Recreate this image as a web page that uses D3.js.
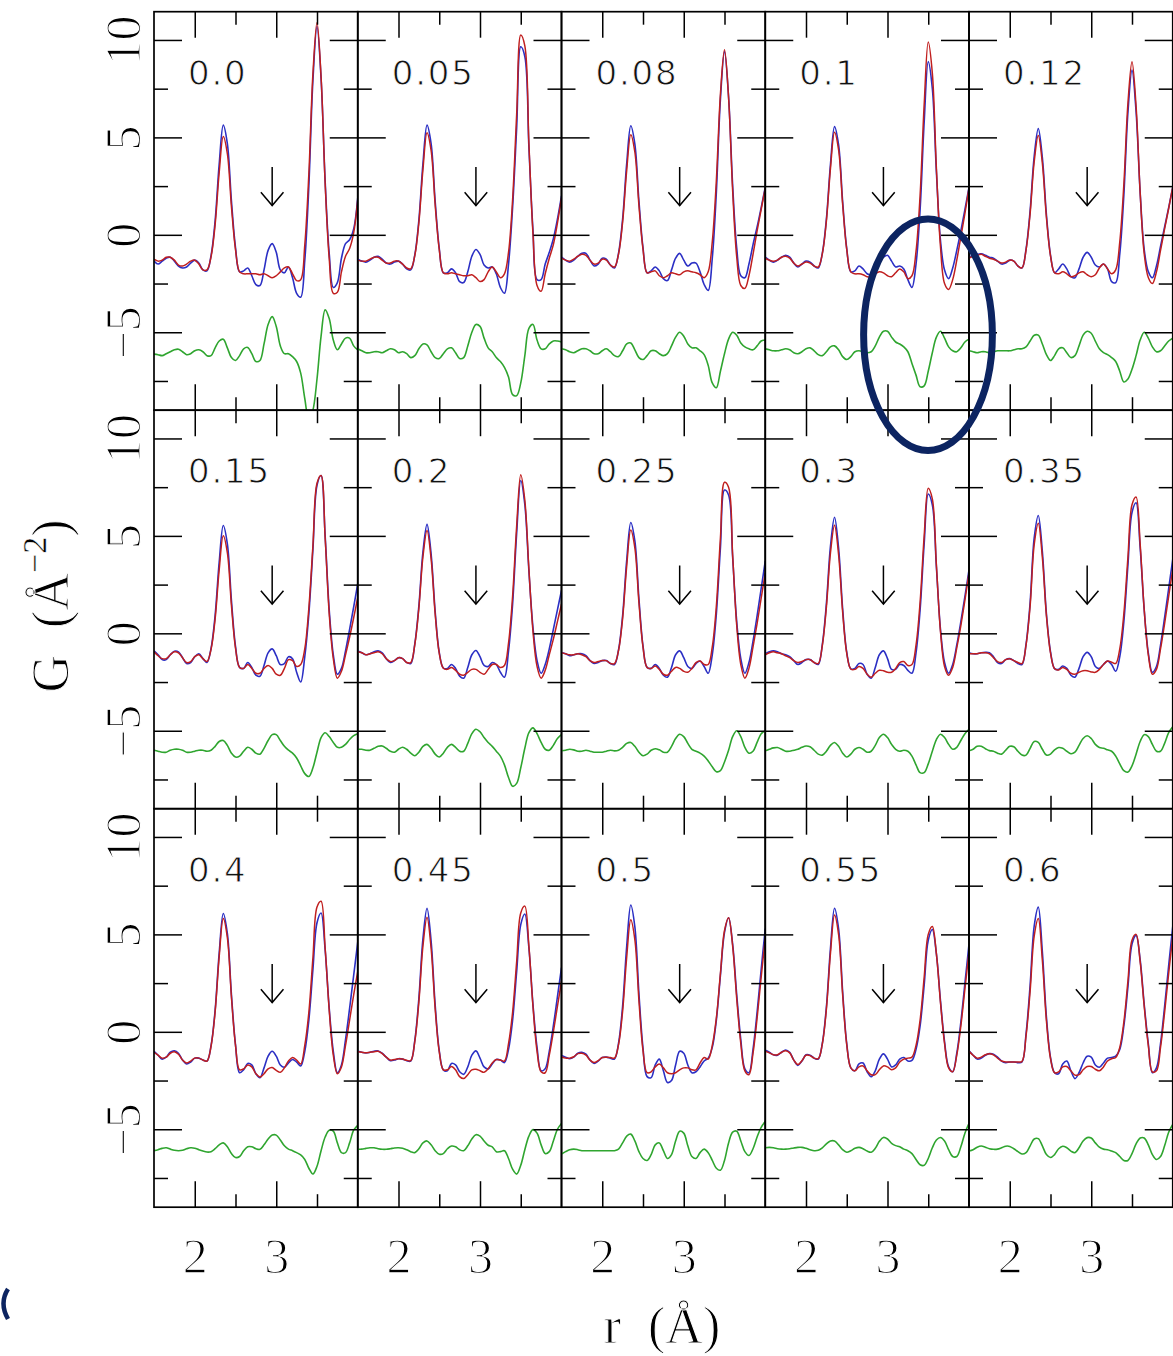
<!DOCTYPE html>
<html>
<head>
<meta charset="utf-8">
<script src="https://cdn.jsdelivr.net/npm/d3@7"></script>
<style>
  body { margin: 0; background: #fff; }
  svg { display: block; }
</style>
</head>
<body>
<svg id="chart" width="1173" height="1356"></svg>
<script>
// Radial grid (Å) shared by every panel
const rGrid = [1.5,1.55,1.6,1.65,1.7,1.75,1.8,1.85,1.9,1.95,2,2.05,2.1,2.15,2.2,2.25,2.3,2.35,2.4,2.45,2.5,2.55,2.6,2.65,2.7,2.75,2.8,2.85,2.9,2.95,3,3.05,3.1,3.15,3.2,3.25,3.3,3.35,3.4,3.45,3.5,3.55,3.6,3.65,3.7,3.75,3.8,3.85,3.9,3.95,4];

const panelLabels = ["0.0","0.05","0.08","0.1","0.12","0.15","0.2","0.25","0.3","0.35","0.4","0.45","0.5","0.55","0.6"];

// Measured G(r) (blue), model fit (red), offset difference (green)
const obs00 = [-1.35,-1.5,-1.35,-1.2,-1.15,-1.35,-1.6,-1.7,-1.65,-1.45,-1.3,-1.45,-1.8,-1.85,-1.07,0.72,3.63,5.63,4.68,1.75,-0.65,-1.9,-1.85,-1.7,-2.1,-2.55,-2.6,-1.8,-0.8,-0.45,-0.9,-1.8,-1.95,-1.65,-2.2,-3.0,-3.2,-1.32,2.51,7.93,10.7,8.02,2.76,-0.96,-2.7,-2.45,-1.2,-0.45,-0.25,0.3,1.9];
const fit00 = [-1.25,-1.35,-1.3,-1.15,-1.15,-1.3,-1.55,-1.6,-1.5,-1.35,-1.3,-1.5,-1.8,-1.8,-1.13,0.52,3.2,5.04,4.16,1.46,-0.76,-1.9,-2.0,-2.0,-2.0,-2.0,-2.05,-2.0,-2.1,-2.2,-2.1,-1.9,-1.7,-1.65,-2.0,-2.35,-2.3,-0.52,3.13,8.27,10.9,8.11,2.64,-1.23,-3.0,-2.95,-1.9,-1.1,-0.7,0.1,1.8];
const diff00 = [-6.12,-6.15,-6.2,-6.1,-6.0,-5.9,-5.87,-6.0,-6.15,-6.1,-5.95,-5.9,-6.0,-6.2,-6.2,-5.8,-5.45,-5.36,-5.8,-6.3,-6.45,-6.2,-5.85,-5.78,-6.1,-6.5,-6.45,-5.6,-4.6,-4.2,-4.7,-5.7,-6.1,-6.1,-6.25,-6.5,-7.1,-8.4,-9.5,-9.0,-7.4,-5.2,-3.85,-4.3,-5.4,-5.9,-5.6,-5.3,-5.3,-5.7,-5.9];

const obs05 = [-1.25,-1.35,-1.4,-1.3,-1.15,-1.1,-1.25,-1.45,-1.5,-1.4,-1.35,-1.5,-1.75,-1.8,-1.03,0.76,3.65,5.63,4.68,1.72,-0.69,-1.95,-1.95,-1.75,-1.95,-2.4,-2.45,-1.9,-1.1,-0.75,-1.0,-1.55,-1.7,-1.65,-2.0,-2.7,-3.0,-1.5,1.4,5.5,9.65,9.15,4.5,0.25,-2.3,-2.3,-1.5,-0.9,-0.2,0.8,2.0];
const fit05 = [-1.3,-1.35,-1.35,-1.25,-1.15,-1.15,-1.3,-1.45,-1.45,-1.35,-1.35,-1.5,-1.7,-1.75,-1.07,0.62,3.35,5.24,4.33,1.53,-0.76,-1.95,-2.0,-1.95,-2.0,-2.05,-2.1,-2.1,-2.05,-2.2,-2.4,-2.3,-1.9,-1.65,-1.9,-2.2,-2.0,-0.9,1.8,6.2,10.25,9.7,4.7,0.05,-2.6,-2.9,-2.0,-1.2,-0.5,0.6,1.9];
const diff05 = [-5.85,-5.95,-6.05,-6.05,-6.0,-6.0,-6.05,-5.95,-5.85,-5.9,-6.05,-6.0,-6.1,-6.3,-6.2,-5.85,-5.6,-5.65,-6.0,-6.3,-6.35,-6.1,-5.85,-5.8,-6.05,-6.35,-6.3,-5.7,-5.0,-4.6,-4.7,-5.3,-5.8,-6.0,-6.3,-6.5,-6.8,-7.3,-8.2,-8.25,-7.6,-6.2,-4.8,-4.6,-5.4,-5.85,-5.85,-5.6,-5.45,-5.45,-5.5];

const obs08 = [-1.15,-1.3,-1.4,-1.3,-1.1,-0.95,-0.95,-1.3,-1.6,-1.5,-1.2,-1.25,-1.55,-1.7,-0.94,0.81,3.65,5.6,4.66,1.74,-0.66,-1.95,-1.85,-1.65,-1.85,-2.25,-2.35,-1.8,-1.2,-0.95,-1.3,-1.6,-1.45,-1.45,-1.9,-2.55,-2.85,-1.2,2.18,6.96,9.4,7.08,2.54,-0.68,-2.1,-2.2,-1.5,-0.5,0.4,1.4,2.45];
const fit08 = [-1.2,-1.3,-1.35,-1.25,-1.1,-1.0,-1.05,-1.3,-1.5,-1.45,-1.25,-1.3,-1.55,-1.65,-0.99,0.65,3.31,5.14,4.25,1.51,-0.74,-1.95,-1.9,-1.85,-2.1,-2.2,-2.1,-1.95,-2.0,-2.05,-1.9,-1.85,-1.9,-1.95,-2.05,-2.2,-1.9,-0.36,2.79,7.23,9.5,7.05,2.26,-1.14,-2.6,-2.75,-2.1,-1.0,0.2,1.3,2.4];
const diff08 = [-5.85,-5.9,-6.0,-6.05,-5.95,-5.85,-5.85,-5.95,-6.1,-6.1,-5.95,-5.85,-6.0,-6.2,-6.25,-5.95,-5.6,-5.55,-5.9,-6.3,-6.4,-6.2,-5.95,-5.95,-6.1,-6.2,-6.1,-5.7,-5.25,-5.0,-5.2,-5.6,-5.8,-5.8,-5.95,-6.15,-6.7,-7.6,-7.85,-7.0,-6.1,-5.35,-5.0,-5.15,-5.55,-5.75,-5.85,-5.9,-5.7,-5.45,-5.4];

const obs10 = [-1.15,-1.3,-1.4,-1.3,-1.15,-1.05,-1.15,-1.45,-1.65,-1.5,-1.35,-1.4,-1.6,-1.7,-0.95,0.8,3.61,5.55,4.61,1.69,-0.71,-1.9,-1.85,-1.6,-1.75,-2.0,-2.05,-1.8,-1.4,-1.15,-1.05,-1.35,-1.65,-1.6,-1.75,-2.3,-2.7,-1.5,1.29,5.79,8.89,7.51,3.22,-0.29,-1.81,-2.25,-1.7,-0.8,0.2,1.3,2.45];
const fit10 = [-1.2,-1.3,-1.35,-1.3,-1.15,-1.1,-1.2,-1.45,-1.6,-1.5,-1.4,-1.45,-1.6,-1.65,-0.98,0.7,3.4,5.27,4.36,1.54,-0.76,-1.9,-2.0,-2.0,-2.05,-2.15,-2.15,-2.0,-1.9,-1.95,-2.1,-2.15,-1.95,-1.75,-1.9,-2.25,-2.1,-0.85,2.03,6.68,9.89,8.3,3.4,-0.61,-2.5,-2.8,-2.3,-1.3,-0.1,1.1,2.4];
const diff10 = [-5.85,-5.9,-5.95,-5.95,-5.9,-5.85,-5.9,-6.05,-6.1,-6.0,-5.85,-5.8,-5.95,-6.15,-6.2,-6.0,-5.75,-5.7,-5.9,-6.25,-6.4,-6.25,-6.0,-5.95,-6.0,-6.05,-6.0,-5.7,-5.25,-4.95,-4.95,-5.25,-5.5,-5.6,-5.75,-6.0,-6.6,-7.2,-7.8,-7.75,-7.0,-6.05,-5.25,-4.95,-5.3,-5.75,-5.95,-6.0,-5.8,-5.5,-5.35];

const obs12 = [-1.15,-1.05,-1.0,-0.98,-1.05,-1.15,-1.2,-1.35,-1.5,-1.45,-1.3,-1.35,-1.6,-1.7,-0.73,1.24,4.03,5.45,3.96,1.03,-1.04,-1.95,-1.75,-1.5,-1.75,-2.15,-2.2,-1.75,-1.15,-0.9,-1.15,-1.55,-1.65,-1.5,-1.75,-2.4,-2.45,-0.98,2.03,6.28,8.45,6.33,2.18,-0.76,-1.89,-2.2,-1.6,-0.6,0.4,1.4,2.45];
const fit12 = [-1.2,-1.1,-1.05,-1.0,-1.1,-1.2,-1.25,-1.35,-1.45,-1.4,-1.3,-1.35,-1.6,-1.7,-0.78,1.09,3.75,5.1,3.68,0.89,-1.08,-1.95,-2.0,-1.9,-2.0,-2.15,-2.1,-1.95,-1.9,-2.05,-2.15,-2.05,-1.7,-1.5,-1.75,-2.0,-1.8,-0.36,2.59,6.75,8.88,6.61,2.17,-0.98,-2.19,-2.5,-1.9,-0.8,0.3,1.35,2.45];
const diff12 = [-5.95,-6.0,-6.05,-6.0,-6.0,-6.05,-6.0,-5.95,-5.95,-5.95,-5.95,-5.9,-5.85,-5.85,-5.75,-5.45,-5.15,-5.15,-5.6,-6.15,-6.45,-6.2,-5.85,-5.8,-6.05,-6.3,-6.2,-5.7,-5.15,-4.95,-5.05,-5.45,-5.85,-6.05,-6.15,-6.3,-6.5,-7.0,-7.55,-7.4,-6.9,-6.2,-5.4,-5.0,-5.3,-5.75,-6.0,-5.95,-5.7,-5.45,-5.3];

const obs15 = [-0.9,-1.1,-1.35,-1.35,-1.1,-0.92,-0.95,-1.25,-1.55,-1.5,-1.2,-1.05,-1.3,-1.5,-0.77,0.92,3.65,5.53,4.59,1.7,-0.67,-1.75,-1.8,-1.5,-1.75,-2.15,-2.2,-1.65,-1.0,-0.8,-1.15,-1.6,-1.55,-1.2,-1.3,-2.0,-2.5,-1.2,1.0,4.3,7.6,8.1,5.0,1.2,-1.1,-2.1,-1.8,-0.9,0.2,1.35,2.55];
const fit15 = [-0.95,-1.15,-1.3,-1.3,-1.1,-0.95,-1.0,-1.25,-1.5,-1.45,-1.2,-1.1,-1.3,-1.45,-0.82,0.74,3.27,5.01,4.14,1.44,-0.76,-1.75,-1.8,-1.6,-1.8,-2.05,-2.05,-1.8,-1.65,-1.8,-2.1,-2.15,-1.8,-1.35,-1.4,-1.7,-1.6,-0.8,1.3,4.5,7.7,8.1,4.9,1.0,-1.3,-2.3,-1.95,-1.1,-0.2,0.8,1.85];
const diff15 = [-6.0,-6.05,-6.1,-6.1,-6.0,-5.95,-5.95,-6.0,-6.1,-6.1,-6.05,-6.0,-6.0,-6.05,-6.0,-5.8,-5.55,-5.5,-5.75,-6.15,-6.35,-6.3,-6.05,-5.85,-5.95,-6.15,-6.2,-5.9,-5.5,-5.2,-5.2,-5.5,-5.8,-6.0,-6.15,-6.4,-6.8,-7.2,-7.35,-6.9,-6.1,-5.35,-5.1,-5.3,-5.6,-5.85,-5.85,-5.7,-5.45,-5.25,-5.15];

const obs20 = [-0.9,-1.0,-1.1,-1.05,-0.95,-0.9,-1.0,-1.3,-1.5,-1.4,-1.25,-1.3,-1.5,-1.55,-0.54,1.41,4.18,5.59,4.08,1.12,-0.98,-1.78,-1.8,-1.6,-1.8,-2.2,-2.3,-1.75,-1.1,-0.88,-1.2,-1.65,-1.7,-1.5,-1.6,-2.0,-2.25,-0.9,1.5,5.14,7.84,6.61,3.2,0.3,-1.4,-2.05,-1.6,-0.8,0.2,1.2,2.2];
const fit20 = [-0.95,-1.0,-1.1,-1.05,-1.0,-0.95,-1.05,-1.3,-1.45,-1.4,-1.25,-1.3,-1.5,-1.5,-0.58,1.29,3.93,5.28,3.83,0.99,-1.02,-1.79,-1.85,-1.75,-1.9,-2.1,-2.15,-2.0,-1.85,-1.85,-2.0,-2.1,-1.85,-1.6,-1.6,-1.75,-1.65,-0.5,1.9,5.52,8.14,6.83,3.3,0.1,-1.7,-2.3,-1.9,-1.1,-0.3,0.6,1.5];
const diff20 = [-5.95,-5.95,-6.0,-6.0,-5.9,-5.8,-5.78,-5.9,-6.05,-6.1,-5.95,-5.85,-5.95,-6.15,-6.28,-6.1,-5.8,-5.7,-5.9,-6.2,-6.35,-6.15,-5.85,-5.7,-5.85,-6.05,-6.05,-5.65,-5.15,-4.92,-5.05,-5.35,-5.6,-5.8,-6.05,-6.3,-6.75,-7.4,-7.85,-7.7,-6.9,-5.9,-5.1,-4.85,-5.15,-5.6,-5.95,-6.0,-5.75,-5.4,-5.2];

const obs25 = [-0.98,-1.05,-1.15,-1.1,-1.05,-1.05,-1.15,-1.4,-1.55,-1.5,-1.4,-1.4,-1.55,-1.6,-0.84,0.91,3.74,5.69,4.74,1.78,-0.64,-1.75,-1.8,-1.6,-1.8,-2.15,-2.25,-1.75,-1.1,-0.9,-1.25,-1.7,-1.8,-1.55,-1.42,-1.7,-2.05,-1.1,1.0,4.4,7.35,7.1,3.9,0.6,-1.3,-2.05,-1.5,-0.4,0.9,2.3,3.7];
const fit25 = [-1.0,-1.05,-1.1,-1.1,-1.05,-1.1,-1.2,-1.4,-1.5,-1.45,-1.4,-1.4,-1.55,-1.55,-0.88,0.77,3.45,5.3,4.39,1.58,-0.71,-1.75,-1.8,-1.68,-1.85,-2.1,-2.15,-1.95,-1.75,-1.8,-1.95,-2.0,-1.8,-1.5,-1.42,-1.6,-1.6,-0.7,1.4,4.9,7.75,7.5,4.0,0.4,-1.6,-2.3,-1.8,-0.7,0.5,1.8,3.1];
const diff25 = [-6.03,-6.0,-5.95,-5.98,-6.05,-6.05,-6.0,-6.05,-6.1,-6.1,-6.1,-6.05,-6.0,-6.03,-6.0,-5.85,-5.65,-5.6,-5.8,-6.1,-6.28,-6.2,-6.0,-5.92,-5.98,-6.1,-6.1,-5.8,-5.4,-5.18,-5.3,-5.65,-5.95,-6.05,-6.15,-6.3,-6.55,-6.85,-7.1,-7.05,-6.6,-6.0,-5.3,-5.0,-5.3,-5.85,-6.15,-6.05,-5.6,-5.15,-5.0];

const obs30 = [-1.05,-0.95,-0.9,-0.95,-1.05,-1.1,-1.2,-1.4,-1.6,-1.5,-1.35,-1.35,-1.5,-1.6,-0.58,1.51,4.46,5.96,4.37,1.24,-0.97,-1.82,-1.8,-1.55,-1.6,-2.1,-2.3,-1.75,-1.1,-0.9,-1.3,-1.85,-1.85,-1.6,-1.65,-1.9,-2.05,-1.0,1.2,4.6,7.15,6.6,3.4,0.2,-1.5,-2.05,-1.6,-0.6,0.6,1.9,3.25];
const fit30 = [-1.1,-1.0,-0.95,-1.0,-1.05,-1.15,-1.25,-1.4,-1.5,-1.45,-1.35,-1.35,-1.5,-1.55,-0.64,1.33,4.12,5.54,4.03,1.07,-1.03,-1.83,-1.85,-1.7,-1.8,-2.1,-2.25,-2.05,-1.9,-1.92,-2.0,-2.0,-1.8,-1.5,-1.45,-1.65,-1.6,-0.6,1.6,5.0,7.45,6.9,3.5,0.1,-1.7,-2.15,-1.75,-0.75,0.4,1.7,3.1];
const diff30 = [-6.03,-5.95,-5.88,-5.86,-5.95,-6.05,-6.05,-6.0,-5.95,-5.85,-5.78,-5.82,-6.0,-6.2,-6.25,-6.05,-5.75,-5.6,-5.8,-6.15,-6.35,-6.2,-5.95,-5.86,-5.95,-6.1,-6.05,-5.75,-5.35,-5.18,-5.35,-5.7,-5.95,-6.05,-6.0,-6.05,-6.3,-6.75,-7.15,-7.15,-6.7,-6.05,-5.45,-5.18,-5.35,-5.7,-5.95,-5.85,-5.5,-5.15,-4.92];

const obs35 = [-1.0,-1.05,-1.05,-1.0,-0.98,-1.0,-1.2,-1.5,-1.55,-1.35,-1.3,-1.4,-1.55,-1.6,-0.55,1.58,4.9,6.05,4.2,1.0,-0.94,-1.81,-1.85,-1.68,-1.8,-2.15,-2.25,-1.8,-1.2,-0.98,-1.2,-1.7,-1.8,-1.6,-1.42,-1.6,-1.95,-1.2,0.6,3.5,6.2,6.7,4.4,1.2,-1.0,-2.0,-1.7,-0.6,0.8,2.3,3.8];
const fit35 = [-1.05,-1.05,-1.05,-1.0,-1.0,-1.05,-1.25,-1.45,-1.5,-1.35,-1.3,-1.4,-1.5,-1.55,-0.6,1.4,4.55,5.65,3.9,0.9,-1.0,-1.82,-1.88,-1.75,-1.85,-2.05,-2.1,-2.0,-1.92,-1.92,-1.98,-2.0,-1.85,-1.6,-1.42,-1.48,-1.55,-0.8,1.0,3.9,6.6,7.0,4.6,1.2,-1.1,-2.1,-1.85,-0.8,0.5,1.9,3.3];
const diff35 = [-6.03,-5.95,-5.8,-5.8,-5.92,-6.02,-6.05,-6.15,-6.2,-6.0,-5.8,-5.82,-6.05,-6.25,-6.25,-5.9,-5.55,-5.6,-5.95,-6.25,-6.2,-5.98,-5.86,-5.9,-6.05,-6.18,-6.1,-5.75,-5.4,-5.26,-5.4,-5.7,-5.86,-5.9,-5.98,-6.05,-6.3,-6.7,-7.05,-7.12,-6.8,-6.2,-5.55,-5.2,-5.3,-5.7,-6.05,-6.05,-5.65,-5.1,-4.8];

const obs40 = [-1.0,-1.2,-1.4,-1.3,-1.05,-0.98,-1.1,-1.45,-1.65,-1.55,-1.35,-1.35,-1.45,-1.5,-0.71,1.11,4.05,6.07,5.05,1.91,-0.66,-2.1,-1.95,-1.62,-1.7,-2.15,-2.35,-1.85,-1.25,-1.0,-1.25,-1.7,-1.82,-1.6,-1.42,-1.55,-1.75,-1.0,0.6,3.2,5.6,6.1,4.2,1.2,-1.0,-2.1,-1.7,-0.4,1.2,2.9,4.6];
const fit40 = [-1.05,-1.2,-1.35,-1.3,-1.1,-1.02,-1.15,-1.45,-1.6,-1.5,-1.35,-1.35,-1.45,-1.5,-0.74,1.02,3.86,5.81,4.83,1.79,-0.7,-1.95,-1.9,-1.7,-1.8,-2.15,-2.32,-2.15,-1.9,-1.83,-1.98,-2.08,-1.85,-1.5,-1.32,-1.45,-1.65,-0.7,1.0,3.8,6.4,6.7,4.3,1.1,-1.2,-2.15,-1.8,-0.7,0.6,1.9,3.1];
const diff40 = [-6.1,-6.05,-5.98,-5.95,-6.02,-6.08,-6.1,-6.08,-6.0,-5.95,-5.97,-6.05,-6.12,-6.17,-6.15,-6.0,-5.8,-5.7,-5.9,-6.25,-6.45,-6.4,-6.1,-5.9,-5.9,-6.0,-6.03,-5.8,-5.5,-5.3,-5.3,-5.55,-5.85,-6.02,-6.1,-6.2,-6.32,-6.55,-7.0,-7.3,-6.9,-6.1,-5.4,-5.05,-5.1,-5.7,-6.2,-6.2,-5.7,-5.05,-4.8];

const obs45 = [-1.0,-1.05,-1.08,-1.05,-1.0,-0.98,-1.1,-1.3,-1.48,-1.45,-1.38,-1.4,-1.48,-1.5,-0.44,1.72,4.78,6.34,4.66,1.37,-0.96,-1.95,-2.0,-1.62,-1.7,-2.05,-2.18,-1.8,-1.2,-0.98,-1.35,-1.8,-1.9,-1.65,-1.42,-1.45,-1.58,-0.9,0.6,3.1,5.5,6.05,4.3,1.4,-0.8,-2.0,-1.9,-1.0,0.3,1.8,3.3];
const fit45 = [-1.02,-1.05,-1.08,-1.05,-1.02,-1.0,-1.12,-1.3,-1.45,-1.42,-1.38,-1.4,-1.46,-1.48,-0.5,1.53,4.41,5.88,4.29,1.18,-1.02,-1.95,-1.95,-1.78,-1.95,-2.3,-2.4,-2.2,-1.95,-1.92,-2.0,-2.08,-1.9,-1.6,-1.42,-1.45,-1.5,-0.6,1.0,3.6,6.1,6.45,4.4,1.3,-1.0,-2.05,-2.1,-1.2,0.0,1.3,2.6];
const diff45 = [-6.03,-6.02,-5.98,-5.95,-5.95,-6.0,-6.03,-6.03,-6.0,-5.96,-5.95,-5.97,-6.05,-6.15,-6.2,-6.0,-5.7,-5.6,-5.8,-6.1,-6.28,-6.25,-6.0,-5.86,-5.9,-6.05,-6.1,-5.85,-5.5,-5.28,-5.35,-5.6,-5.82,-5.9,-6.15,-6.15,-6.1,-6.5,-7.05,-7.3,-6.85,-6.05,-5.35,-5.02,-5.2,-5.8,-6.25,-6.15,-5.6,-5.0,-4.7];

const obs50 = [-1.22,-1.3,-1.38,-1.3,-1.1,-1.05,-1.15,-1.45,-1.62,-1.5,-1.32,-1.3,-1.35,-1.4,-0.58,1.32,4.39,6.51,5.39,1.97,-0.83,-2.3,-2.35,-1.7,-1.4,-2.0,-2.6,-2.5,-1.7,-1.0,-1.1,-1.7,-2.1,-2.05,-1.8,-1.5,-1.35,-0.8,0.6,2.9,5.1,5.85,4.5,1.9,-0.4,-1.9,-2.1,-0.9,1.0,3.2,5.3];
const fit50 = [-1.28,-1.35,-1.35,-1.28,-1.12,-1.1,-1.2,-1.45,-1.58,-1.48,-1.32,-1.3,-1.32,-1.35,-0.66,1.06,3.83,5.75,4.73,1.6,-0.96,-2.1,-2.05,-1.8,-1.65,-1.85,-2.1,-2.15,-2.1,-1.95,-1.85,-1.85,-1.95,-1.95,-1.6,-1.32,-1.4,-0.7,0.7,3.0,5.2,5.85,4.4,1.7,-0.6,-2.0,-2.2,-1.1,0.7,2.8,4.8];
const diff50 = [-6.27,-6.15,-6.05,-6.02,-6.05,-6.1,-6.1,-6.1,-6.1,-6.1,-6.1,-6.1,-6.1,-6.1,-6.02,-5.7,-5.35,-5.25,-5.6,-6.15,-6.5,-6.6,-6.3,-5.8,-5.7,-6.1,-6.5,-6.3,-5.6,-5.1,-5.2,-5.85,-6.4,-6.5,-6.2,-6.02,-6.2,-6.6,-7.0,-7.1,-6.6,-5.7,-5.15,-5.1,-5.6,-6.15,-6.35,-6.0,-5.4,-4.9,-4.6];

const obs55 = [-0.95,-1.05,-1.18,-1.2,-1.05,-0.93,-1.05,-1.45,-1.72,-1.5,-1.18,-1.2,-1.35,-1.4,-0.6,1.26,4.27,6.34,5.29,2.04,-0.61,-1.85,-2.0,-1.65,-1.6,-2.05,-2.3,-2.0,-1.4,-1.13,-1.4,-1.8,-1.7,-1.4,-1.32,-1.5,-1.47,-0.9,0.3,2.4,4.7,5.25,4.0,1.6,-0.5,-1.8,-2.05,-1.1,0.5,2.5,4.5];
const fit55 = [-1.0,-1.08,-1.18,-1.18,-1.05,-0.97,-1.08,-1.45,-1.68,-1.48,-1.2,-1.22,-1.35,-1.38,-0.63,1.15,4.02,6.0,4.99,1.88,-0.67,-1.85,-2.0,-1.8,-1.75,-2.0,-2.2,-2.2,-1.95,-1.75,-1.8,-1.95,-1.85,-1.55,-1.4,-1.35,-1.3,-0.7,0.6,2.8,5.0,5.4,4.0,1.5,-0.6,-1.85,-2.05,-1.2,0.3,2.2,4.1];
const diff55 = [-5.95,-5.93,-5.95,-6.0,-6.02,-6.02,-6.0,-5.96,-5.93,-5.93,-5.98,-6.05,-6.1,-6.08,-5.95,-5.75,-5.6,-5.6,-5.8,-6.05,-6.18,-6.1,-5.98,-5.93,-6.0,-6.12,-6.18,-5.98,-5.62,-5.42,-5.5,-5.72,-5.84,-5.9,-6.02,-6.1,-6.25,-6.55,-6.82,-6.85,-6.5,-5.95,-5.55,-5.42,-5.6,-6.05,-6.4,-6.4,-5.9,-5.2,-4.7];

const obs60 = [-0.98,-1.2,-1.4,-1.35,-1.2,-1.12,-1.15,-1.3,-1.5,-1.58,-1.55,-1.55,-1.58,-1.55,-0.1,2.39,5.43,6.4,4.1,0.76,-1.31,-2.1,-2.15,-1.65,-1.5,-2.0,-2.4,-2.1,-1.6,-1.25,-1.3,-1.7,-1.82,-1.6,-1.35,-1.32,-1.25,-0.9,0.3,2.3,4.5,4.95,3.7,1.4,-0.6,-2.1,-1.85,-0.6,1.3,3.4,5.4];
const fit60 = [-1.0,-1.2,-1.35,-1.3,-1.18,-1.12,-1.18,-1.35,-1.5,-1.55,-1.55,-1.55,-1.55,-1.52,-0.21,2.09,4.91,5.81,3.67,0.56,-1.37,-2.1,-2.05,-1.8,-1.78,-2.0,-2.22,-2.2,-1.95,-1.78,-1.78,-1.92,-2.0,-1.8,-1.5,-1.38,-1.32,-0.8,0.5,2.6,4.7,5.0,3.6,1.3,-0.7,-2.05,-2.0,-0.8,1.0,3.0,4.9];
const diff60 = [-6.12,-6.05,-5.92,-5.86,-5.92,-6.0,-6.03,-6.02,-5.95,-5.87,-5.88,-6.0,-6.15,-6.27,-6.2,-5.85,-5.5,-5.48,-5.85,-6.3,-6.45,-6.3,-6.0,-5.87,-5.95,-6.12,-6.2,-5.95,-5.6,-5.43,-5.45,-5.7,-5.92,-6.02,-6.05,-6.12,-6.2,-6.4,-6.6,-6.6,-6.25,-5.75,-5.45,-5.45,-5.8,-6.3,-6.55,-6.4,-5.85,-5.15,-4.75];

// Axis ticks and labels
const xMajorTicks = [2, 3];
const xMinorTicks = [2.5, 3.5];
const yMajorTicks = [-5, 0, 5, 10];
const yMinorTicks = [-7.5, -2.5, 2.5, 7.5];

// Marker arrow over the ~2.95 Å feature (r, top G, tip G)
const arrowR = 2.95, arrowTop = 3.48, arrowTip = 1.5;

const observedSeries = [obs00, obs05, obs08, obs10, obs12, obs15, obs20, obs25, obs30, obs35, obs40, obs45, obs50, obs55, obs60];
const fitSeries = [fit00, fit05, fit08, fit10, fit12, fit15, fit20, fit25, fit30, fit35, fit40, fit45, fit50, fit55, fit60];
const diffSeries = [diff00, diff05, diff08, diff10, diff12, diff15, diff20, diff25, diff30, diff35, diff40, diff45, diff50, diff55, diff60];

// ---- layout ----
const W = 1173, H = 1356;
const left0 = 154, top0 = 11.7, panelW = 203.75, panelH = 398.5;
const nCols = 5;
const serif = "'Liberation Serif', 'Times New Roman', serif";
const COL_OBS = "#2b2fc4", COL_FIT = "#c01f1f", COL_DIFF = "#2fa52f", NAVY = "#0c2461";

const svg = d3.select("#chart");
svg.append("rect").attr("width", W).attr("height", H).attr("fill", "#fff");

const x = d3.scaleLinear().domain([1.5, 4.0]).range([0, panelW]);
const y = d3.scaleLinear().domain([-9.0, 11.45]).range([panelH, 0]);

const line = d3.line()
  .x((d, i) => x(rGrid[i]))
  .y(d => y(d))
  .curve(d3.curveCatmullRom.alpha(0.5));

// thin strokes for the plotting-package style lettering
function thinText(sel, w) {
  sel.attr("stroke", "#fff").attr("stroke-width", w).attr("paint-order", "normal");
}

function tickAxis(g, axisGen, values, size, transform) {
  g.append("g")
    .attr("transform", transform)
    .call(axisGen.tickValues(values).tickSize(-size).tickFormat(""))
    .call(s => s.select(".domain").remove())
    .call(s => s.selectAll(".tick line").attr("stroke", "#000").attr("stroke-width", 1.5));
}

panelLabels.forEach((label, k) => {
  const col = k % nCols, row = Math.floor(k / nCols);
  const g = svg.append("g")
    .attr("transform", `translate(${left0 + col * panelW},${top0 + row * panelH})`);

  const clipId = "panel-clip-" + k;
  g.append("clipPath").attr("id", clipId)
    .append("rect").attr("width", panelW).attr("height", panelH);
  const plot = g.append("g").attr("clip-path", `url(#${clipId})`);

  plot.append("path").attr("d", line(diffSeries[k]))
    .attr("fill", "none").attr("stroke", COL_DIFF).attr("stroke-width", 1.6);
  plot.append("path").attr("d", line(observedSeries[k]))
    .attr("fill", "none").attr("stroke", COL_OBS).attr("stroke-width", 1.6);
  plot.append("path").attr("d", line(fitSeries[k]))
    .attr("fill", "none").attr("stroke", COL_FIT).attr("stroke-width", 1.5);

  // arrow
  const ax = x(arrowR), ay0 = y(arrowTop), ay1 = y(arrowTip);
  g.append("line").attr("x1", ax).attr("x2", ax).attr("y1", ay0).attr("y2", ay1)
    .attr("stroke", "#000").attr("stroke-width", 1.5);
  g.append("path")
    .attr("d", `M${ax - 11.3},${ay1 - 13.3}L${ax},${ay1}L${ax + 11.3},${ay1 - 13.3}`)
    .attr("fill", "none").attr("stroke", "#000").attr("stroke-width", 1.5);

  // panel label
  g.append("text")
    .attr("x", 34).attr("y", 73)
    .attr("font-family", "'DejaVu Sans', sans-serif")
    .attr("font-size", 34)
    .attr("letter-spacing", 1.8)
    .attr("fill", "#111")
    .call(thinText, 0.9)
    .text(label);

  // ticks on all four sides, pointing inward
  tickAxis(g, d3.axisBottom(x), xMajorTicks, 26, `translate(0,${panelH})`);
  tickAxis(g, d3.axisBottom(x), xMinorTicks, 13, `translate(0,${panelH})`);
  tickAxis(g, d3.axisTop(x), xMajorTicks, 26, "translate(0,0)");
  tickAxis(g, d3.axisTop(x), xMinorTicks, 13, "translate(0,0)");
  tickAxis(g, d3.axisLeft(y), yMajorTicks, 28, "translate(0,0)");
  tickAxis(g, d3.axisLeft(y), yMinorTicks, 14, "translate(0,0)");
  tickAxis(g, d3.axisRight(y), yMajorTicks, 28, `translate(${panelW},0)`);
  tickAxis(g, d3.axisRight(y), yMinorTicks, 14, `translate(${panelW},0)`);

  // frame
  g.append("rect").attr("width", panelW).attr("height", panelH)
    .attr("fill", "none").attr("stroke", "#000").attr("stroke-width", 1.7);

  // y tick labels on the left column
  if (col === 0) {
    g.append("g")
      .call(d3.axisLeft(y).tickValues(yMajorTicks).tickSize(0).tickFormat(d3.format("d")))
      .call(s => s.select(".domain").remove())
      .call(s => s.selectAll(".tick text")
        .attr("x", null).attr("dy", null)
        .attr("transform", "translate(-14,0) rotate(-90)")
        .attr("text-anchor", "middle")
        .attr("font-family", serif).attr("font-size", 50).attr("fill", "#000")
        .call(thinText, 1.3));
  }
  // x tick labels on the bottom row
  if (row === 2) {
    g.append("g").attr("transform", `translate(0,${panelH})`)
      .call(d3.axisBottom(x).tickValues(xMajorTicks).tickSize(0).tickFormat(d3.format("d")))
      .call(s => s.select(".domain").remove())
      .call(s => s.selectAll(".tick text")
        .attr("y", 66).attr("dy", null)
        .attr("font-family", serif).attr("font-size", 50).attr("fill", "#000")
        .call(thinText, 1.3));
  }
});

// axis titles
svg.append("text")
  .attr("x", 662).attr("y", 1343)
  .attr("text-anchor", "middle")
  .attr("font-family", serif).attr("font-size", 52)
  .attr("word-spacing", 14)
  .call(thinText, 1.0)
  .text("r (Å)");

const yTitle = svg.append("text")
  .attr("transform", "translate(68,606) rotate(-90)")
  .attr("text-anchor", "middle")
  .attr("font-family", serif).attr("font-size", 52)
  .attr("word-spacing", 14)
  .call(thinText, 1.0);
yTitle.append("tspan").text("G (Å");
yTitle.append("tspan").attr("font-size", 34).attr("dy", -22).attr("stroke-width", 0.4).text("−2");
yTitle.append("tspan").attr("dy", 22).text(")");

// highlight ellipse around the 3.5 Å peak of the 0.1 panel
const hx = d3.scaleLinear().domain([1.5, 4.0]).range([left0 + 3 * panelW, left0 + 4 * panelW]);
const hy = d3.scaleLinear().domain([-9.0, 11.45]).range([top0 + panelH, top0]);
const eR = 3.497, eG = -5.13, eRx = 0.79, eRy = 5.94;
svg.append("ellipse")
  .attr("cx", hx(eR)).attr("cy", hy(eG))
  .attr("rx", hx(eR + eRx) - hx(eR)).attr("ry", hy(eG - eRy) - hy(eG))
  .attr("fill", "none").attr("stroke", NAVY).attr("stroke-width", 7);

// small stray bracket mark at the lower left
svg.append("path")
  .attr("d", "M8,1289 Q-1,1303 8,1319")
  .attr("fill", "none").attr("stroke", NAVY).attr("stroke-width", 4.5);
</script>
</body>
</html>
